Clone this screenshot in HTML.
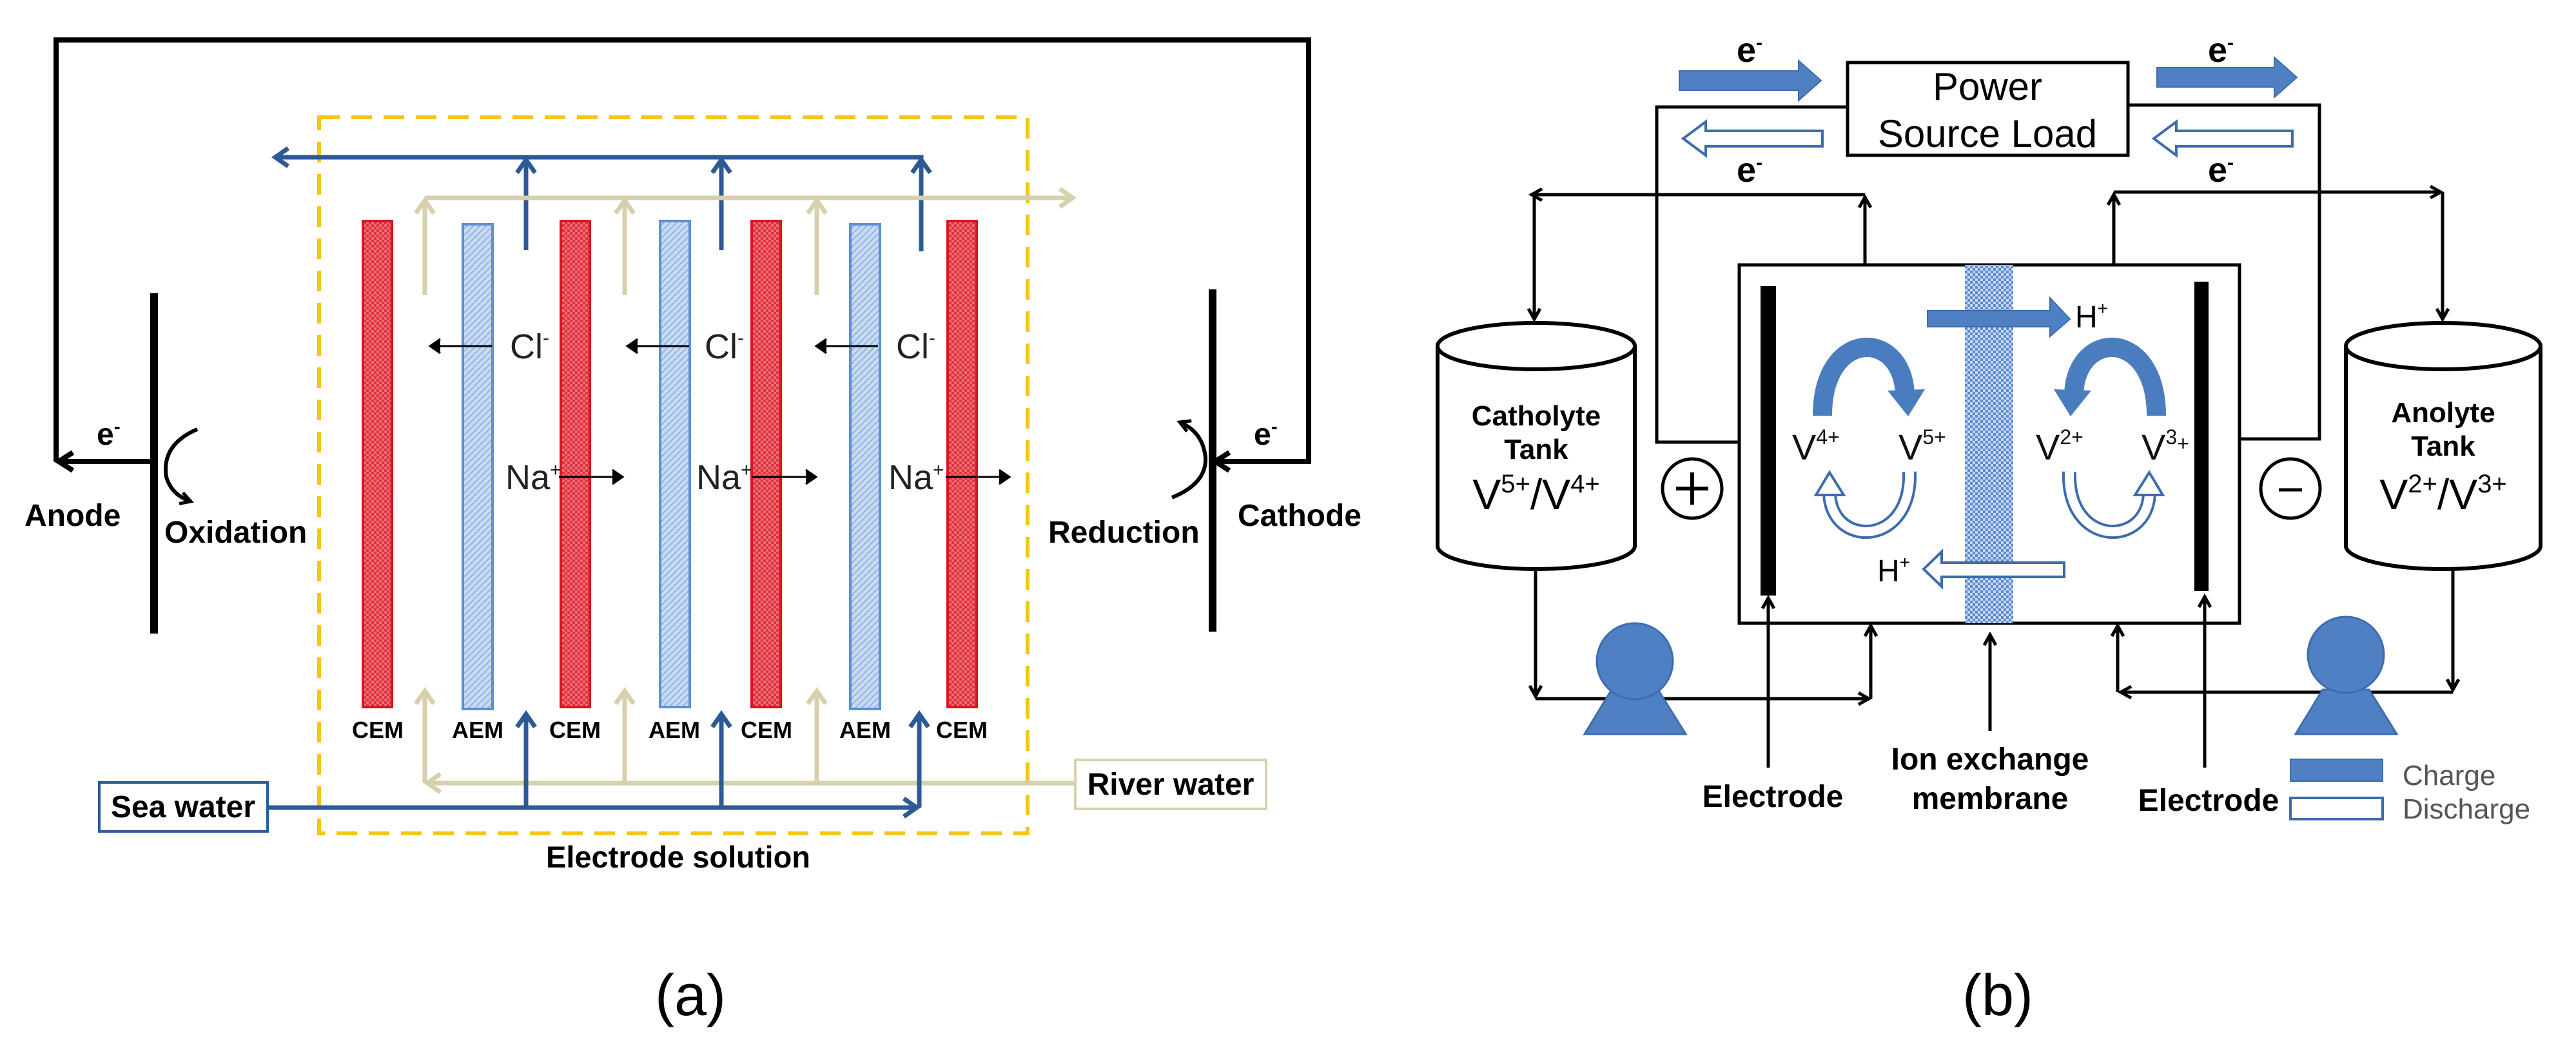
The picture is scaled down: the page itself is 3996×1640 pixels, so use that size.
<!DOCTYPE html>
<html><head><meta charset="utf-8"><style>
html,body{margin:0;padding:0;background:#fff;}
svg{display:block;}
text{font-family:"Liberation Sans",sans-serif;}
</style></head><body>
<svg width="3996" height="1640" viewBox="0 0 3996 1640" xmlns="http://www.w3.org/2000/svg">
<defs>
<marker id="mk" markerUnits="userSpaceOnUse" markerWidth="40" markerHeight="40" refX="30" refY="20" orient="auto"><path d="M8,6 L30,20 L8,34" fill="none" stroke="#000" stroke-width="8"/></marker>
<marker id="mks" markerUnits="userSpaceOnUse" markerWidth="30" markerHeight="30" refX="22" refY="15" orient="auto"><path d="M6,6 L22,15 L6,24" fill="none" stroke="#000" stroke-width="5"/></marker>
<marker id="mkt" markerUnits="userSpaceOnUse" markerWidth="30" markerHeight="30" refX="26" refY="15" orient="auto"><path d="M2,15 L26,15 M10,4 L26,15 L10,26" fill="#000" stroke="#000" stroke-width="3"/></marker>
<marker id="mb" markerUnits="userSpaceOnUse" markerWidth="40" markerHeight="40" refX="28" refY="20" orient="auto"><path d="M8,6 L28,20 L8,34" fill="none" stroke="#2d5a94" stroke-width="7"/></marker>
<marker id="mtan" markerUnits="userSpaceOnUse" markerWidth="40" markerHeight="40" refX="28" refY="20" orient="auto"><path d="M8,6 L28,20 L8,34" fill="none" stroke="#d7d0ad" stroke-width="7"/></marker>
<pattern id="pr" width="8" height="8" patternUnits="userSpaceOnUse"><rect width="8" height="8" fill="#e0323d"/><rect width="4" height="4" fill="#ea6d75"/><rect x="4" y="4" width="4" height="4" fill="#ea6d75"/></pattern>
<pattern id="pb" width="10" height="10" patternUnits="userSpaceOnUse"><rect width="10" height="10" fill="#c9dbf2"/><path d="M0,5 L5,0 M5,10 L10,5" stroke="#8fb2e2" stroke-width="2"/></pattern>
<pattern id="pm" width="8" height="8" patternUnits="userSpaceOnUse"><rect width="8" height="8" fill="#5b8ad0"/><rect width="4" height="4" fill="#c7d8f1"/><rect x="4" y="4" width="4" height="4" fill="#c7d8f1"/></pattern>
</defs>

<!-- ================= PANEL A ================= -->
<!-- outer circuit -->
<path d="M87,716 L87,62 L2030,62 L2030,716 L1885,716" fill="none" stroke="#000" stroke-width="8" marker-end="url(#mk)"/>
<line x1="238" y1="716" x2="91" y2="716" stroke="#000" stroke-width="8" marker-end="url(#mk)"/>
<rect x="233" y="455" width="12" height="528" fill="#000"/>
<rect x="1875" y="449" width="12" height="531" fill="#000"/>
<text x="150" y="690" font-size="48" font-weight="bold">e<tspan font-size="30" dy="-18">-</tspan></text>
<text x="1945" y="690" font-size="48" font-weight="bold">e<tspan font-size="30" dy="-18">-</tspan></text>
<path d="M306,666 Q250,690 258,740 Q266,768 296,778" fill="none" stroke="#000" stroke-width="6" marker-end="url(#mks)"/>
<path d="M1818,772 Q1872,750 1870,710 Q1866,670 1830,655" fill="none" stroke="#000" stroke-width="6" marker-end="url(#mks)"/>
<text x="38" y="816" font-size="48" font-weight="bold">Anode</text>
<text x="255" y="842" font-size="48" font-weight="bold">Oxidation</text>
<text x="1626" y="842" font-size="48" font-weight="bold">Reduction</text>
<text x="1920" y="816" font-size="48" font-weight="bold">Cathode</text>

<!-- dashed box -->
<rect x="495" y="182" width="1099" height="1111" fill="none" stroke="#f5c518" stroke-width="6" stroke-dasharray="32,18"/>

<!-- top blue manifold -->
<path d="M1429,390 L1429,244 L427,244" fill="none" stroke="#2d5a94" stroke-width="7" marker-end="url(#mb)"/>
<line x1="816" y1="388" x2="816" y2="248" stroke="#2d5a94" stroke-width="7" marker-end="url(#mb)"/>
<line x1="1119" y1="388" x2="1119" y2="248" stroke="#2d5a94" stroke-width="7" marker-end="url(#mb)"/>
<line x1="1429" y1="390" x2="1429" y2="248" stroke="#2d5a94" stroke-width="7" marker-end="url(#mb)"/>
<!-- top tan manifold -->
<path d="M659,307 L1664,307" fill="none" stroke="#d7d0ad" stroke-width="7" marker-end="url(#mtan)"/>
<line x1="659" y1="458" x2="659" y2="311" stroke="#d7d0ad" stroke-width="7" marker-end="url(#mtan)"/>
<line x1="969" y1="458" x2="969" y2="311" stroke="#d7d0ad" stroke-width="7" marker-end="url(#mtan)"/>
<line x1="1267" y1="458" x2="1267" y2="311" stroke="#d7d0ad" stroke-width="7" marker-end="url(#mtan)"/>

<!-- membranes -->
<g stroke-width="4">
<rect x="563" y="343" width="45" height="754" fill="url(#pr)" stroke="#d9151f"/>
<rect x="718" y="348" width="46" height="752" fill="url(#pb)" stroke="#5b8fd6"/>
<rect x="870" y="343" width="45" height="754" fill="url(#pr)" stroke="#d9151f"/>
<rect x="1024" y="343" width="46" height="754" fill="url(#pb)" stroke="#5b8fd6"/>
<rect x="1166" y="343" width="45" height="754" fill="url(#pr)" stroke="#d9151f"/>
<rect x="1319" y="348" width="46" height="752" fill="url(#pb)" stroke="#5b8fd6"/>
<rect x="1470" y="343" width="45" height="754" fill="url(#pr)" stroke="#d9151f"/>
</g>
<g font-size="36" font-weight="bold" text-anchor="middle">
<text x="586" y="1145">CEM</text><text x="741" y="1145">AEM</text><text x="892" y="1145">CEM</text>
<text x="1046" y="1145">AEM</text><text x="1189" y="1145">CEM</text><text x="1342" y="1145">AEM</text><text x="1492" y="1145">CEM</text>
</g>
<!-- Cl- and Na+ -->
<g stroke="#000" stroke-width="3">
<line x1="763" y1="537" x2="667" y2="537" marker-end="url(#mkt)"/>
<line x1="1069" y1="537" x2="973" y2="537" marker-end="url(#mkt)"/>
<line x1="1362" y1="537" x2="1266" y2="537" marker-end="url(#mkt)"/>
<line x1="867" y1="740" x2="966" y2="740" marker-end="url(#mkt)"/>
<line x1="1167" y1="740" x2="1266" y2="740" marker-end="url(#mkt)"/>
<line x1="1467" y1="740" x2="1566" y2="740" marker-end="url(#mkt)"/>
</g>
<g font-size="54" fill="#222">
<text x="791" y="556">Cl<tspan font-size="30" dy="-22">-</tspan></text>
<text x="1093" y="556">Cl<tspan font-size="30" dy="-22">-</tspan></text>
<text x="1390" y="556">Cl<tspan font-size="30" dy="-22">-</tspan></text>
<text x="784" y="759">Na<tspan font-size="30" dy="-20">+</tspan></text>
<text x="1080" y="759">Na<tspan font-size="30" dy="-20">+</tspan></text>
<text x="1378" y="759">Na<tspan font-size="30" dy="-20">+</tspan></text>
</g>

<!-- bottom tan -->
<path d="M1668,1215 L663,1215" fill="none" stroke="#d7d0ad" stroke-width="7" marker-end="url(#mtan)"/>
<line x1="659" y1="1215" x2="659" y2="1072" stroke="#d7d0ad" stroke-width="7" marker-end="url(#mtan)"/>
<line x1="969" y1="1215" x2="969" y2="1072" stroke="#d7d0ad" stroke-width="7" marker-end="url(#mtan)"/>
<line x1="1267" y1="1215" x2="1267" y2="1072" stroke="#d7d0ad" stroke-width="7" marker-end="url(#mtan)"/>
<!-- bottom blue -->
<path d="M415,1253 L1422,1253" fill="none" stroke="#2d5a94" stroke-width="7" marker-end="url(#mb)"/>
<line x1="816" y1="1253" x2="816" y2="1108" stroke="#2d5a94" stroke-width="7" marker-end="url(#mb)"/>
<line x1="1119" y1="1253" x2="1119" y2="1108" stroke="#2d5a94" stroke-width="7" marker-end="url(#mb)"/>
<line x1="1426" y1="1253" x2="1426" y2="1108" stroke="#2d5a94" stroke-width="7" marker-end="url(#mb)"/>
<rect x="154" y="1214" width="261" height="76" fill="#fff" stroke="#2d5a94" stroke-width="4"/>
<text x="284" y="1268" font-size="48" font-weight="bold" text-anchor="middle">Sea water</text>
<rect x="1668" y="1179" width="296" height="76" fill="#fff" stroke="#d7d0ad" stroke-width="4"/>
<text x="1816" y="1233" font-size="48" font-weight="bold" text-anchor="middle">River water</text>
<text x="1052" y="1346" font-size="47" font-weight="bold" text-anchor="middle">Electrode solution</text>
<text x="1071" y="1575" font-size="90" text-anchor="middle">(a)</text>

<!-- ================= PANEL B ================= -->
<!-- power box & wires -->
<path d="M2866,166 L2570,166 L2570,686 L2735,686" fill="none" stroke="#000" stroke-width="5"/>
<path d="M3301,163 L3598,163 L3598,681 L3423,681" fill="none" stroke="#000" stroke-width="5"/>
<rect x="2866" y="97" width="435" height="144" fill="#fff" stroke="#000" stroke-width="5"/>
<text x="3083" y="155" font-size="60" text-anchor="middle">Power</text>
<text x="3083" y="228" font-size="60" text-anchor="middle">Source Load</text>
<!-- e- arrows -->
<polygon points="2605,110 2790,110 2790,94 2825,125 2790,156 2790,140 2605,140" fill="#4f80c4" stroke="#3d6cae" stroke-width="2"/>
<polygon points="3346,105 3528,105 3528,89 3563,120 3528,151 3528,135 3346,135" fill="#4f80c4" stroke="#3d6cae" stroke-width="2"/>
<polygon points="2827,203 2646,203 2646,189 2611,215 2646,241 2646,227 2827,227" fill="#fff" stroke="#3d6cae" stroke-width="4"/>
<polygon points="3556,203 3376,203 3376,189 3341,215 3376,241 3376,227 3556,227" fill="#fff" stroke="#3d6cae" stroke-width="4"/>
<g font-size="54" font-weight="bold" text-anchor="middle">
<text x="2714" y="96">e<tspan font-size="30" dy="-20">-</tspan></text>
<text x="2714" y="282">e<tspan font-size="30" dy="-20">-</tspan></text>
<text x="3445" y="96">e<tspan font-size="30" dy="-20">-</tspan></text>
<text x="3445" y="282">e<tspan font-size="30" dy="-20">-</tspan></text>
</g>
<!-- top connectors -->
<g fill="none" stroke="#000" stroke-width="5">
<line x1="2893" y1="411" x2="2893" y2="306" marker-end="url(#mks)"/>
<line x1="2893" y1="302" x2="2376" y2="302" marker-end="url(#mks)"/>
<line x1="2380" y1="302" x2="2380" y2="495" marker-end="url(#mks)"/>
<line x1="3279" y1="411" x2="3279" y2="302" marker-end="url(#mks)"/>
<line x1="3279" y1="298" x2="3786" y2="298" marker-end="url(#mks)"/>
<line x1="3789" y1="298" x2="3789" y2="495" marker-end="url(#mks)"/>
</g>
<!-- tanks -->
<g fill="#fff" stroke="#000" stroke-width="6">
<path d="M2230,537 L2230,847 A153,36 0 0 0 2536,847 L2536,537"/>
<ellipse cx="2383" cy="537" rx="153" ry="36"/>
<path d="M3639,537 L3639,847 A151,36 0 0 0 3941,847 L3941,537"/>
<ellipse cx="3790" cy="537" rx="151" ry="36"/>
</g>
<g font-weight="bold" font-size="44" text-anchor="middle">
<text x="2383" y="660">Catholyte</text><text x="2383" y="712">Tank</text>
<text x="3790" y="655">Anolyte</text><text x="3790" y="707">Tank</text>
</g>
<g font-size="66" text-anchor="middle">
<text x="2383" y="790">V<tspan font-size="40" dy="-26">5+</tspan><tspan dy="26">/V</tspan><tspan font-size="40" dy="-26">4+</tspan></text>
<text x="3790" y="790">V<tspan font-size="40" dy="-26">2+</tspan><tspan dy="26">/V</tspan><tspan font-size="40" dy="-26">3+</tspan></text>
</g>
<!-- +/- circles -->
<circle cx="2625" cy="758" r="46" fill="#fff" stroke="#000" stroke-width="5"/>
<path d="M2600,758 L2650,758 M2625,733 L2625,783" stroke="#000" stroke-width="6"/>
<circle cx="3553" cy="758" r="46" fill="#fff" stroke="#000" stroke-width="5"/>
<path d="M3535,760 L3571,760" stroke="#000" stroke-width="5"/>

<!-- cell -->
<rect x="2698" y="411" width="776" height="556" fill="#fff" stroke="#000" stroke-width="5"/>
<rect x="3048" y="411" width="75" height="556" fill="url(#pm)"/>
<rect x="2731" y="444" width="24" height="480" fill="#000"/>
<rect x="3404" y="437" width="22" height="480" fill="#000"/>
<!-- H+ arrows -->
<polygon points="2990,482 3180,482 3180,462 3211,495 3180,522 3180,507 2990,507" fill="#4f80c4" stroke="#3d6cae" stroke-width="2"/>
<text x="3219" y="508" font-size="48">H<tspan font-size="28" dy="-20">+</tspan></text>
<polygon points="3202,873 3012,873 3012,856 2984,883 3012,910 3012,895 3202,895" fill="#fff" stroke="#3d6cae" stroke-width="4"/>
<text x="2912" y="902" font-size="48">H<tspan font-size="28" dy="-20">+</tspan></text>
<!-- charge curves -->
<g id="cl">
<path d="M2827,645 C2827,510 2950,510 2955,610" fill="none" stroke="#4a7cc0" stroke-width="30"/>
<polygon points="2928,606 2986,604 2960,646" fill="#4a7cc0"/>
<path d="M2962,732 C2966,850 2840,850 2838,765" fill="none" stroke="#3d6cae" stroke-width="22"/>
<path d="M2962,732 C2966,850 2840,850 2838,765" fill="none" stroke="#fff" stroke-width="14"/>
<polygon points="2817,768 2860,768 2838,733" fill="#fff" stroke="#3d6cae" stroke-width="4"/>
</g>
<use href="#cl" transform="translate(6172,0) scale(-1,1)"/>
<g font-size="56" fill="#111">
<text x="2780" y="713">V<tspan font-size="32" dy="-24">4+</tspan></text>
<text x="2945" y="713">V<tspan font-size="32" dy="-24">5+</tspan></text>
<text x="3158" y="713">V<tspan font-size="32" dy="-24">2+</tspan></text>
<text x="3322" y="713">V<tspan font-size="32" dy="-24">3</tspan><tspan font-size="32" dy="10">+</tspan></text>
</g>

<!-- pumps & bottom connectors -->
<g fill="none" stroke="#000" stroke-width="5">
<line x1="2382" y1="881" x2="2382" y2="1080" marker-end="url(#mks)"/>
<line x1="2382" y1="1084" x2="2899" y2="1084" marker-end="url(#mks)"/>
<line x1="2902" y1="1084" x2="2902" y2="971" marker-end="url(#mks)"/>
<line x1="3805" y1="881" x2="3805" y2="1070" marker-end="url(#mks)"/>
<line x1="3805" y1="1074" x2="3290" y2="1074" marker-end="url(#mks)"/>
<line x1="3285" y1="1074" x2="3285" y2="971" marker-end="url(#mks)"/>
<line x1="2743" y1="1191" x2="2743" y2="928" marker-end="url(#mks)"/>
<line x1="3087" y1="1134" x2="3087" y2="985" marker-end="url(#mks)"/>
<line x1="3420" y1="1191" x2="3420" y2="926" marker-end="url(#mks)"/>
</g>
<g fill="#4f80c4" stroke="#3d6cae" stroke-width="3">
<polygon points="2500,1070 2572,1070 2615,1139 2458,1139"/>
<circle cx="2536" cy="1026" r="59"/>
<polygon points="3603,1070 3675,1070 3718,1139 3561,1139"/>
<circle cx="3639" cy="1016" r="59"/>
</g>
<g font-size="48" font-weight="bold" text-anchor="middle">
<text x="2750" y="1252">Electrode</text>
<text x="3087" y="1194">Ion exchange</text>
<text x="3087" y="1255">membrane</text>
<text x="3426" y="1258">Electrode</text>
</g>
<rect x="3553" y="1178" width="143" height="34" fill="#4f80c4" stroke="#3d6cae" stroke-width="2"/>
<rect x="3553" y="1238" width="143" height="33" fill="#fff" stroke="#3d6cae" stroke-width="4"/>
<text x="3727" y="1218" font-size="44" fill="#555">Charge</text>
<text x="3727" y="1270" font-size="44" fill="#555">Discharge</text>
<text x="3099" y="1575" font-size="90" text-anchor="middle">(b)</text>
</svg>
</body></html>
